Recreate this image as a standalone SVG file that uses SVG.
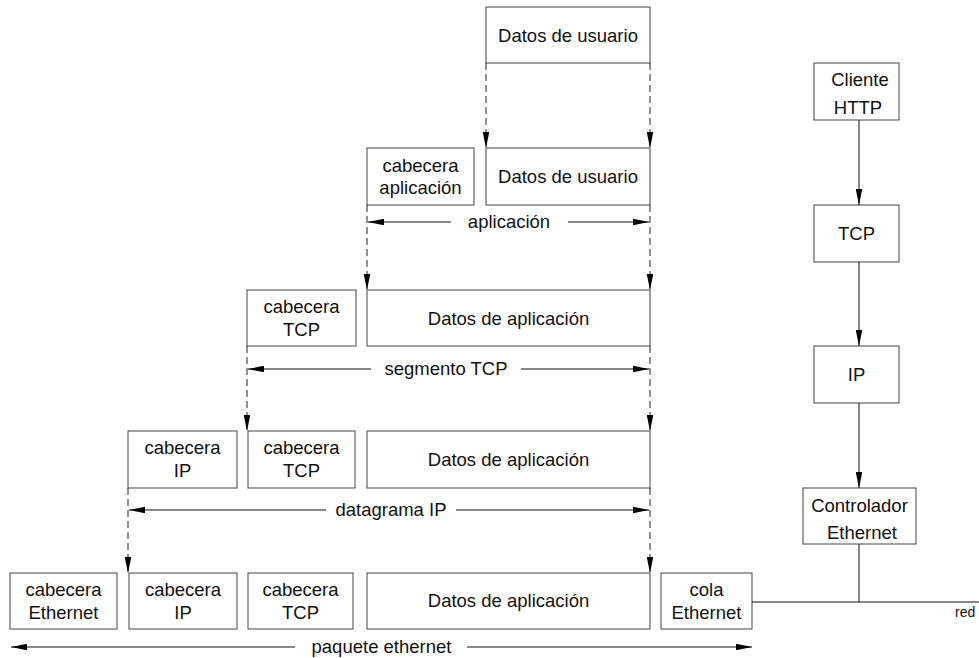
<svg xmlns="http://www.w3.org/2000/svg" width="979" height="658" viewBox="0 0 979 658">
<style>
.box{fill:#fff;stroke:#444;stroke-width:1}
.t{font-family:"Liberation Sans",Arial,Helvetica,sans-serif;font-size:18.5px;fill:#111;text-anchor:middle}
.small{font-family:"Liberation Sans",Arial,Helvetica,sans-serif;font-size:14px;fill:#111}
.dash{stroke:#222;stroke-width:1;stroke-dasharray:7,4;fill:none}
.ln{stroke:#111;stroke-width:1;fill:none}
</style>
<defs>
<marker id="ah" viewBox="0 0 16 6.5" refX="16" refY="3.25" markerWidth="16" markerHeight="6.5" markerUnits="userSpaceOnUse" orient="auto">
<path d="M0,0 L16,3.25 L0,6.5 z" fill="#000"/>
</marker>
<marker id="ahs" viewBox="0 0 16 6.5" refX="16" refY="3.25" markerWidth="16" markerHeight="6.5" markerUnits="userSpaceOnUse" orient="auto-start-reverse">
<path d="M0,0 L16,3.25 L0,6.5 z" fill="#000"/>
</marker>
</defs>

<g id="row1-datos"><rect class="box" x="486" y="7" width="164" height="56"/><text class="t" x="568" y="41.5">Datos de usuario</text></g>

<g id="row2-cab-app"><rect class="box" x="367" y="148" width="107" height="57"/><text class="t" x="420.5" y="171.5">cabecera</text><text class="t" x="420.5" y="194">aplicación</text></g>
<g id="row2-datos"><rect class="box" x="486" y="148" width="164" height="57"/><text class="t" x="568" y="183">Datos de usuario</text></g>

<g id="row3-cab-tcp"><rect class="box" x="247" y="290" width="109" height="56"/><text class="t" x="301.5" y="313">cabecera</text><text class="t" x="301.5" y="336">TCP</text></g>
<g id="row3-datos"><rect class="box" x="367" y="290" width="283" height="56"/><text class="t" x="508.5" y="324.5">Datos de aplicación</text></g>

<g id="row4-cab-ip"><rect class="box" x="128" y="431" width="109" height="57"/><text class="t" x="182.5" y="454">cabecera</text><text class="t" x="182.5" y="477">IP</text></g>
<g id="row4-cab-tcp"><rect class="box" x="248" y="431" width="107" height="57"/><text class="t" x="301.5" y="454">cabecera</text><text class="t" x="301.5" y="477">TCP</text></g>
<g id="row4-datos"><rect class="box" x="367" y="431" width="283" height="57"/><text class="t" x="508.5" y="466">Datos de aplicación</text></g>

<g id="row5-cab-eth"><rect class="box" x="10" y="573" width="107" height="56"/><text class="t" x="63.5" y="596">cabecera</text><text class="t" x="63.5" y="619">Ethernet</text></g>
<g id="row5-cab-ip"><rect class="box" x="129" y="573" width="108" height="56"/><text class="t" x="183" y="596">cabecera</text><text class="t" x="183" y="619">IP</text></g>
<g id="row5-cab-tcp"><rect class="box" x="248" y="573" width="105" height="56"/><text class="t" x="300.5" y="596">cabecera</text><text class="t" x="300.5" y="619">TCP</text></g>
<g id="row5-datos"><rect class="box" x="367" y="573" width="283" height="56"/><text class="t" x="508.5" y="607">Datos de aplicación</text></g>
<g id="row5-cola"><rect class="box" x="661" y="573" width="91" height="56"/><text class="t" x="706.5" y="596">cola</text><text class="t" x="706.5" y="619">Ethernet</text></g>

<g id="cliente-http"><rect class="box" x="814" y="63" width="85" height="57"/><text class="t" x="860" y="86">Cliente</text><text class="t" x="858" y="114">HTTP</text></g>
<g id="tcp"><rect class="box" x="814" y="205" width="85" height="57"/><text class="t" x="856.5" y="239.5">TCP</text></g>
<g id="ip"><rect class="box" x="814" y="346" width="85" height="57"/><text class="t" x="856.5" y="381">IP</text></g>
<g id="controlador"><rect class="box" x="803" y="488" width="113" height="56"/><text class="t" x="859.5" y="512">Controlador</text><text class="t" x="862" y="539">Ethernet</text></g>

<g id="connectors">
<line class="dash" x1="486" y1="63" x2="486" y2="148" marker-end="url(#ah)"/>
<line class="dash" x1="650" y1="63" x2="650" y2="148" marker-end="url(#ah)"/>
<line class="dash" x1="367" y1="205" x2="367" y2="290" marker-end="url(#ah)"/>
<line class="dash" x1="650" y1="205" x2="650" y2="290" marker-end="url(#ah)"/>
<line class="dash" x1="247" y1="346" x2="247" y2="431" marker-end="url(#ah)"/>
<line class="dash" x1="650" y1="346" x2="650" y2="431" marker-end="url(#ah)"/>
<line class="dash" x1="128" y1="488" x2="128" y2="573" marker-end="url(#ah)"/>
<line class="dash" x1="650" y1="488" x2="650" y2="573" marker-end="url(#ah)"/>

<line class="ln" x1="368" y1="222" x2="451" y2="222" marker-start="url(#ahs)"/>
<line class="ln" x1="568" y1="222" x2="649" y2="222" marker-end="url(#ah)"/>
<text class="t" x="509" y="227.5">aplicación</text>

<line class="ln" x1="248" y1="369" x2="371" y2="369" marker-start="url(#ahs)"/>
<line class="ln" x1="521" y1="369" x2="649" y2="369" marker-end="url(#ah)"/>
<text class="t" x="446" y="374.5">segmento TCP</text>

<line class="ln" x1="129" y1="510" x2="326" y2="510" marker-start="url(#ahs)"/>
<line class="ln" x1="456" y1="510" x2="649" y2="510" marker-end="url(#ah)"/>
<text class="t" x="391" y="515.5">datagrama IP</text>

<line class="ln" x1="11" y1="647" x2="295" y2="647" marker-start="url(#ahs)"/>
<line class="ln" x1="467" y1="647" x2="752" y2="647" marker-end="url(#ah)"/>
<text class="t" x="381.5" y="652.5">paquete ethernet</text>

<line class="ln" x1="859" y1="120" x2="859" y2="205" marker-end="url(#ah)"/>
<line class="ln" x1="859" y1="262" x2="859" y2="346" marker-end="url(#ah)"/>
<line class="ln" x1="859" y1="403" x2="859" y2="488" marker-end="url(#ah)"/>
<line class="ln" x1="859" y1="544" x2="859" y2="602"/>
<line class="ln" x1="752" y1="602" x2="979" y2="602"/>
</g>
<text class="small" x="955" y="617">red</text>
</svg>
